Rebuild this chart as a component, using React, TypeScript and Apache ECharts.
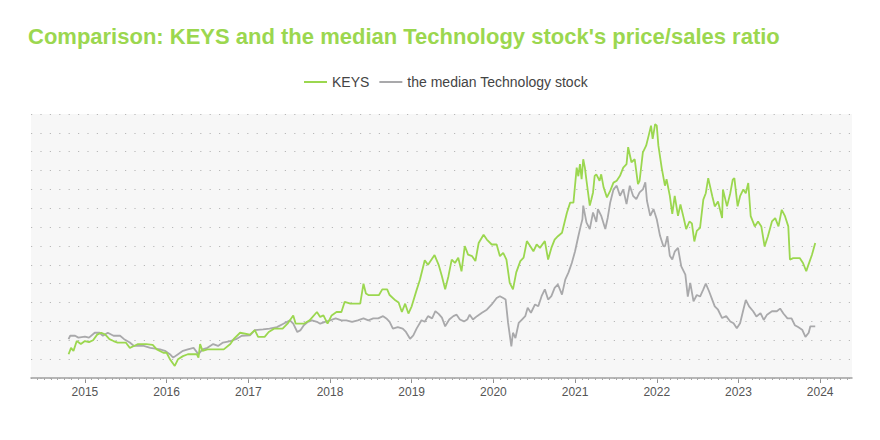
import React, { useEffect, useRef } from "react";
import * as echarts from "echarts";

const TITLE = "Comparison: KEYS and the median Technology stock's price/sales ratio";
const SERIES_NAMES = ["KEYS", "the median Technology stock"];
const YEAR_LABELS = [2015, 2016, 2017, 2018, 2019, 2020, 2021, 2022, 2023, 2024];

// decimal-year dates and price/sales values
const keysYears = [
  2014.80, 2014.83, 2014.86, 2014.90, 2014.95, 2015.00, 2015.05, 2015.10, 2015.15, 2015.20,
  2015.25, 2015.30, 2015.35, 2015.40, 2015.50, 2015.55, 2015.60, 2015.65, 2015.75, 2015.83,
  2015.88, 2015.96, 2016.00, 2016.04, 2016.10, 2016.14, 2016.20, 2016.26, 2016.37, 2016.39,
  2016.41, 2016.44, 2016.50, 2016.70, 2016.78, 2016.82, 2016.90, 2017.02, 2017.08, 2017.12,
  2017.20, 2017.25, 2017.32, 2017.42, 2017.48, 2017.55, 2017.58, 2017.68, 2017.75, 2017.84,
  2017.88, 2017.92, 2017.97, 2018.02, 2018.08, 2018.14, 2018.18, 2018.25, 2018.37, 2018.41,
  2018.44, 2018.47, 2018.60, 2018.64, 2018.70, 2018.73, 2018.80, 2018.84, 2018.88, 2018.92,
  2018.96, 2019.00, 2019.06, 2019.10, 2019.16, 2019.20, 2019.28, 2019.33, 2019.37, 2019.41,
  2019.45, 2019.49, 2019.53, 2019.57, 2019.61, 2019.65, 2019.69, 2019.74, 2019.78, 2019.82,
  2019.88, 2019.92, 2019.98, 2020.04, 2020.08, 2020.12, 2020.16, 2020.20, 2020.24, 2020.28,
  2020.33, 2020.37, 2020.41, 2020.45, 2020.49, 2020.53, 2020.57, 2020.63, 2020.67, 2020.71,
  2020.75, 2020.79, 2020.84, 2020.90, 2020.94, 2020.98, 2021.02, 2021.04, 2021.06, 2021.08,
  2021.10, 2021.12, 2021.14, 2021.18, 2021.20, 2021.22, 2021.24, 2021.26, 2021.30, 2021.32,
  2021.35, 2021.39, 2021.43, 2021.47, 2021.51, 2021.55, 2021.59, 2021.63, 2021.65, 2021.69,
  2021.73, 2021.77, 2021.79, 2021.83, 2021.87, 2021.90, 2021.93, 2021.95, 2021.98, 2022.00,
  2022.02, 2022.06, 2022.10, 2022.12, 2022.16, 2022.19, 2022.22, 2022.26, 2022.29, 2022.33,
  2022.36, 2022.40, 2022.43, 2022.46, 2022.49, 2022.53, 2022.57, 2022.60, 2022.63, 2022.68,
  2022.71, 2022.75, 2022.80, 2022.81, 2022.86, 2022.90, 2022.93, 2022.95, 2022.99, 2023.02,
  2023.06, 2023.09, 2023.12, 2023.15, 2023.20, 2023.24, 2023.28, 2023.32, 2023.36, 2023.41,
  2023.45, 2023.49, 2023.53, 2023.57, 2023.61, 2023.63, 2023.67, 2023.75, 2023.79, 2023.83,
  2023.85, 2023.90, 2023.94,
];
const keysValues = [
  0.63, 0.80, 0.72, 0.98, 0.90, 0.98, 0.95, 1.00, 1.15, 1.20,
  1.15, 1.03, 0.98, 0.94, 0.94, 0.80, 0.85, 0.90, 0.90, 0.88,
  0.76, 0.67, 0.67, 0.50, 0.32, 0.50, 0.58, 0.63, 0.63, 0.54,
  0.90, 0.72, 0.76, 0.76, 0.90, 1.03, 1.20, 1.15, 1.27, 1.09,
  1.09, 1.22, 1.31, 1.31, 1.44, 1.66, 1.44, 1.44, 1.53, 1.75,
  1.62, 1.66, 1.44, 1.66, 1.75, 1.75, 2.02, 1.97, 1.97, 2.50,
  2.24, 2.20, 2.20, 2.35, 2.35, 2.20, 2.06, 2.00, 1.75, 1.97,
  1.71, 1.90, 2.33, 2.60, 3.12, 3.00, 3.26, 3.00, 2.70, 2.35,
  2.70, 3.14, 3.05, 3.19, 2.83, 3.50, 3.27, 3.23, 3.10, 3.58,
  3.80, 3.67, 3.54, 3.54, 3.23, 3.32, 3.14, 2.52, 2.35, 2.80,
  3.10, 3.19, 3.63, 3.50, 3.36, 3.54, 3.45, 3.63, 3.14, 3.45,
  3.67, 3.76, 3.85, 4.38, 4.65, 4.65, 5.58, 5.35, 5.67, 5.27,
  5.80, 5.58, 5.23, 4.57, 4.74, 4.92, 5.36, 5.40, 5.23, 5.40,
  5.05, 4.79, 4.96, 5.18, 5.23, 5.36, 5.58, 5.67, 6.12, 5.72,
  5.80, 5.14, 5.23, 5.98, 6.16, 6.42, 6.69, 6.34, 6.73, 6.69,
  6.16, 5.58, 5.10, 5.27, 4.83, 4.35, 4.83, 4.30, 4.60, 4.24,
  3.95, 4.15, 4.10, 3.62, 3.90, 3.98, 4.73, 4.90, 5.30, 4.82,
  4.55, 4.68, 4.24, 5.00, 4.55, 4.90, 5.26, 5.30, 4.55, 4.82,
  5.00, 4.90, 5.17, 4.29, 4.02, 4.15, 4.02, 3.49, 3.75, 4.15,
  4.24, 4.02, 4.46, 4.29, 4.02, 3.14, 3.18, 3.18, 3.05, 2.83,
  2.96, 3.27, 3.58,
];

const medianYears = [
  2014.80, 2014.82, 2014.88, 2014.92, 2015.00, 2015.05, 2015.12, 2015.18, 2015.22, 2015.28,
  2015.35, 2015.43, 2015.48, 2015.55, 2015.60, 2015.72, 2015.80, 2015.92, 2015.98, 2016.04,
  2016.08, 2016.14, 2016.20, 2016.26, 2016.33, 2016.39, 2016.44, 2016.50, 2016.57, 2016.63,
  2016.69, 2016.78, 2016.85, 2016.92, 2017.02, 2017.08, 2017.18, 2017.26, 2017.35, 2017.43,
  2017.51, 2017.55, 2017.60, 2017.64, 2017.68, 2017.73, 2017.78, 2017.84, 2017.88, 2017.94,
  2018.00, 2018.07, 2018.14, 2018.20, 2018.27, 2018.34, 2018.41, 2018.47, 2018.53, 2018.59,
  2018.65, 2018.69, 2018.73, 2018.77, 2018.83, 2018.89, 2018.93, 2018.98, 2019.02, 2019.06,
  2019.12, 2019.16, 2019.20, 2019.25, 2019.29, 2019.33, 2019.37, 2019.41, 2019.46, 2019.51,
  2019.55, 2019.59, 2019.64, 2019.68, 2019.71, 2019.75, 2019.80, 2019.86, 2019.92, 2019.98,
  2020.04, 2020.08, 2020.12, 2020.15, 2020.18, 2020.22, 2020.24, 2020.27, 2020.31, 2020.35,
  2020.39, 2020.42, 2020.46, 2020.51, 2020.55, 2020.59, 2020.63, 2020.67, 2020.71, 2020.75,
  2020.79, 2020.84, 2020.88, 2020.92, 2020.96, 2021.00, 2021.04, 2021.07, 2021.09, 2021.10,
  2021.14, 2021.18, 2021.22, 2021.26, 2021.28, 2021.32, 2021.37, 2021.40, 2021.43, 2021.47,
  2021.51, 2021.55, 2021.59, 2021.63, 2021.67, 2021.71, 2021.75, 2021.79, 2021.83, 2021.86,
  2021.88, 2021.92, 2021.96, 2022.00, 2022.04, 2022.08, 2022.10, 2022.13, 2022.16, 2022.19,
  2022.22, 2022.26, 2022.30, 2022.35, 2022.38, 2022.41, 2022.45, 2022.49, 2022.53, 2022.57,
  2022.60, 2022.64, 2022.68, 2022.71, 2022.75, 2022.80, 2022.85, 2022.90, 2022.94, 2022.98,
  2023.02, 2023.06, 2023.09, 2023.13, 2023.18, 2023.22, 2023.27, 2023.31, 2023.35, 2023.41,
  2023.47, 2023.51, 2023.55, 2023.60, 2023.65, 2023.69, 2023.73, 2023.78, 2023.82, 2023.86,
  2023.88, 2023.94,
];
const medianValues = [
  1.03, 1.12, 1.12, 1.07, 1.10, 1.07, 1.20, 1.20, 1.12, 1.20,
  1.12, 1.12, 1.03, 0.94, 0.85, 0.85, 0.80, 0.76, 0.72, 0.63,
  0.54, 0.63, 0.72, 0.76, 0.80, 0.63, 0.76, 0.80, 0.90, 0.85,
  0.94, 0.98, 1.03, 1.12, 1.13, 1.27, 1.29, 1.31, 1.35, 1.44,
  1.53, 1.44, 1.22, 1.27, 1.40, 1.49, 1.53, 1.49, 1.44, 1.49,
  1.53, 1.58, 1.53, 1.53, 1.49, 1.53, 1.58, 1.53, 1.58, 1.58,
  1.64, 1.58, 1.49, 1.31, 1.35, 1.31, 1.22, 1.04, 1.13, 1.31,
  1.53, 1.49, 1.64, 1.58, 1.77, 1.70, 1.60, 1.37, 1.55, 1.64,
  1.68, 1.55, 1.50, 1.55, 1.68, 1.55, 1.64, 1.73, 1.81, 1.95,
  2.12, 2.17, 2.12, 2.08, 1.46, 0.84, 1.20, 1.06, 1.46, 1.55,
  1.64, 1.86, 1.73, 1.95, 1.90, 2.17, 2.35, 2.08, 2.17, 2.39,
  2.48, 2.21, 2.61, 2.80, 3.05, 3.36, 3.76, 4.04, 4.21, 4.57,
  4.12, 3.95, 4.39, 4.14, 4.48, 4.30, 3.95, 4.25, 4.65, 5.00,
  5.10, 4.83, 5.00, 4.61, 5.10, 4.83, 4.74, 4.92, 5.00, 5.19,
  4.70, 4.30, 4.48, 4.21, 3.77, 3.50, 3.49, 3.76, 3.24, 3.14,
  3.35, 3.45, 2.96, 2.74, 2.16, 2.52, 2.03, 2.20, 2.16, 2.35,
  2.50, 2.30, 2.07, 1.90, 1.81, 1.59, 1.64, 1.50, 1.45, 1.32,
  1.45, 1.81, 2.07, 1.90, 1.77, 1.63, 1.72, 1.54, 1.68, 1.77,
  1.77, 1.84, 1.71, 1.58, 1.58, 1.40, 1.35, 1.28, 1.09, 1.20,
  1.37, 1.37,
];

const GREEN = "#9bd74f";
const GRAY = "#a9a9ab";
const FONT = "'Liberation Sans', Arial, Helvetica, sans-serif";

export default function App() {
  const ref = useRef<HTMLDivElement>(null);

  useEffect(() => {
    if (!ref.current) return;
    const chart = echarts.init(ref.current, undefined, { renderer: "svg" });

    const xMin = 2014.34;
    const xMax = 2024.39;
    const monthTicks: number[] = [];
    for (let y = 2014; y <= 2024; y++) {
      for (let m = 0; m < 12; m++) {
        const t = y + m / 12;
        if (t > xMin && t < xMax) monthTicks.push(t);
      }
    }

    const keysData = keysYears.map((d, i) => [d, keysValues[i]]);
    const medianData = medianYears.map((d, i) => [d, medianValues[i]]);

    chart.setOption({
      animation: false,
      backgroundColor: "#ffffff",
      title: {
        text: TITLE,
        left: 23,
        top: 20,
        textStyle: { color: GREEN, fontSize: 22, fontWeight: "bold", fontFamily: FONT },
      },
      legend: {
        top: 70,
        left: 299,
        icon: "rect",
        itemWidth: 23,
        itemHeight: 2,
        itemGap: 10,
        textStyle: { color: "#444", fontSize: 14, fontFamily: FONT },
        data: SERIES_NAMES,
      },
      grid: {
        left: 31,
        right: 28,
        top: 114,
        bottom: 62,
        show: true,
        backgroundColor: "#f7f7f7",
        borderWidth: 0,
      },
      xAxis: [
        {
          type: "value",
          min: xMin,
          max: xMax,
          axisLine: { show: true, lineStyle: { color: "#a0a0a0", width: 1.5 } },
          axisTick: {
            show: true,
            length: 5,
            customValues: YEAR_LABELS,
            lineStyle: { color: "#909090", width: 1 },
          },
          axisLabel: {
            customValues: YEAR_LABELS,
            formatter: (v: number) => String(Math.round(v)),
            color: "#555",
            fontSize: 12,
            fontFamily: FONT,
            margin: 8,
          },
          splitLine: { show: false },
        },
        {
          type: "value",
          min: xMin,
          max: xMax,
          position: "bottom",
          axisLine: { show: false },
          axisTick: {
            show: true,
            length: 2,
            customValues: monthTicks,
            lineStyle: { color: "#a8a8a8", width: 1 },
          },
          axisLabel: { show: false },
          splitLine: { show: false },
        },
      ],
      yAxis: {
        type: "value",
        min: 0,
        max: 7,
        interval: 0.5,
        axisLine: { show: false },
        axisTick: { show: false },
        axisLabel: { show: false },
        splitLine: {
          show: true,
          lineStyle: { color: "#b8b8b8", width: 1, type: [1.2, 8.2] },
        },
      },
      series: [
        {
          name: SERIES_NAMES[0],
          type: "line",
          data: keysData,
          showSymbol: false,
          symbol: "none",
          lineStyle: { color: GREEN, width: 1.8 },
          itemStyle: { color: GREEN },
          z: 3,
        },
        {
          name: SERIES_NAMES[1],
          type: "line",
          data: medianData,
          showSymbol: false,
          symbol: "none",
          lineStyle: { color: GRAY, width: 1.8 },
          itemStyle: { color: GRAY },
          z: 2,
        },
      ],
    });

    return () => chart.dispose();
  }, []);

  return (
    <div
      ref={ref}
      style={{ position: "fixed", left: 0, top: 0, width: 880, height: 440 }}
    />
  );
}
